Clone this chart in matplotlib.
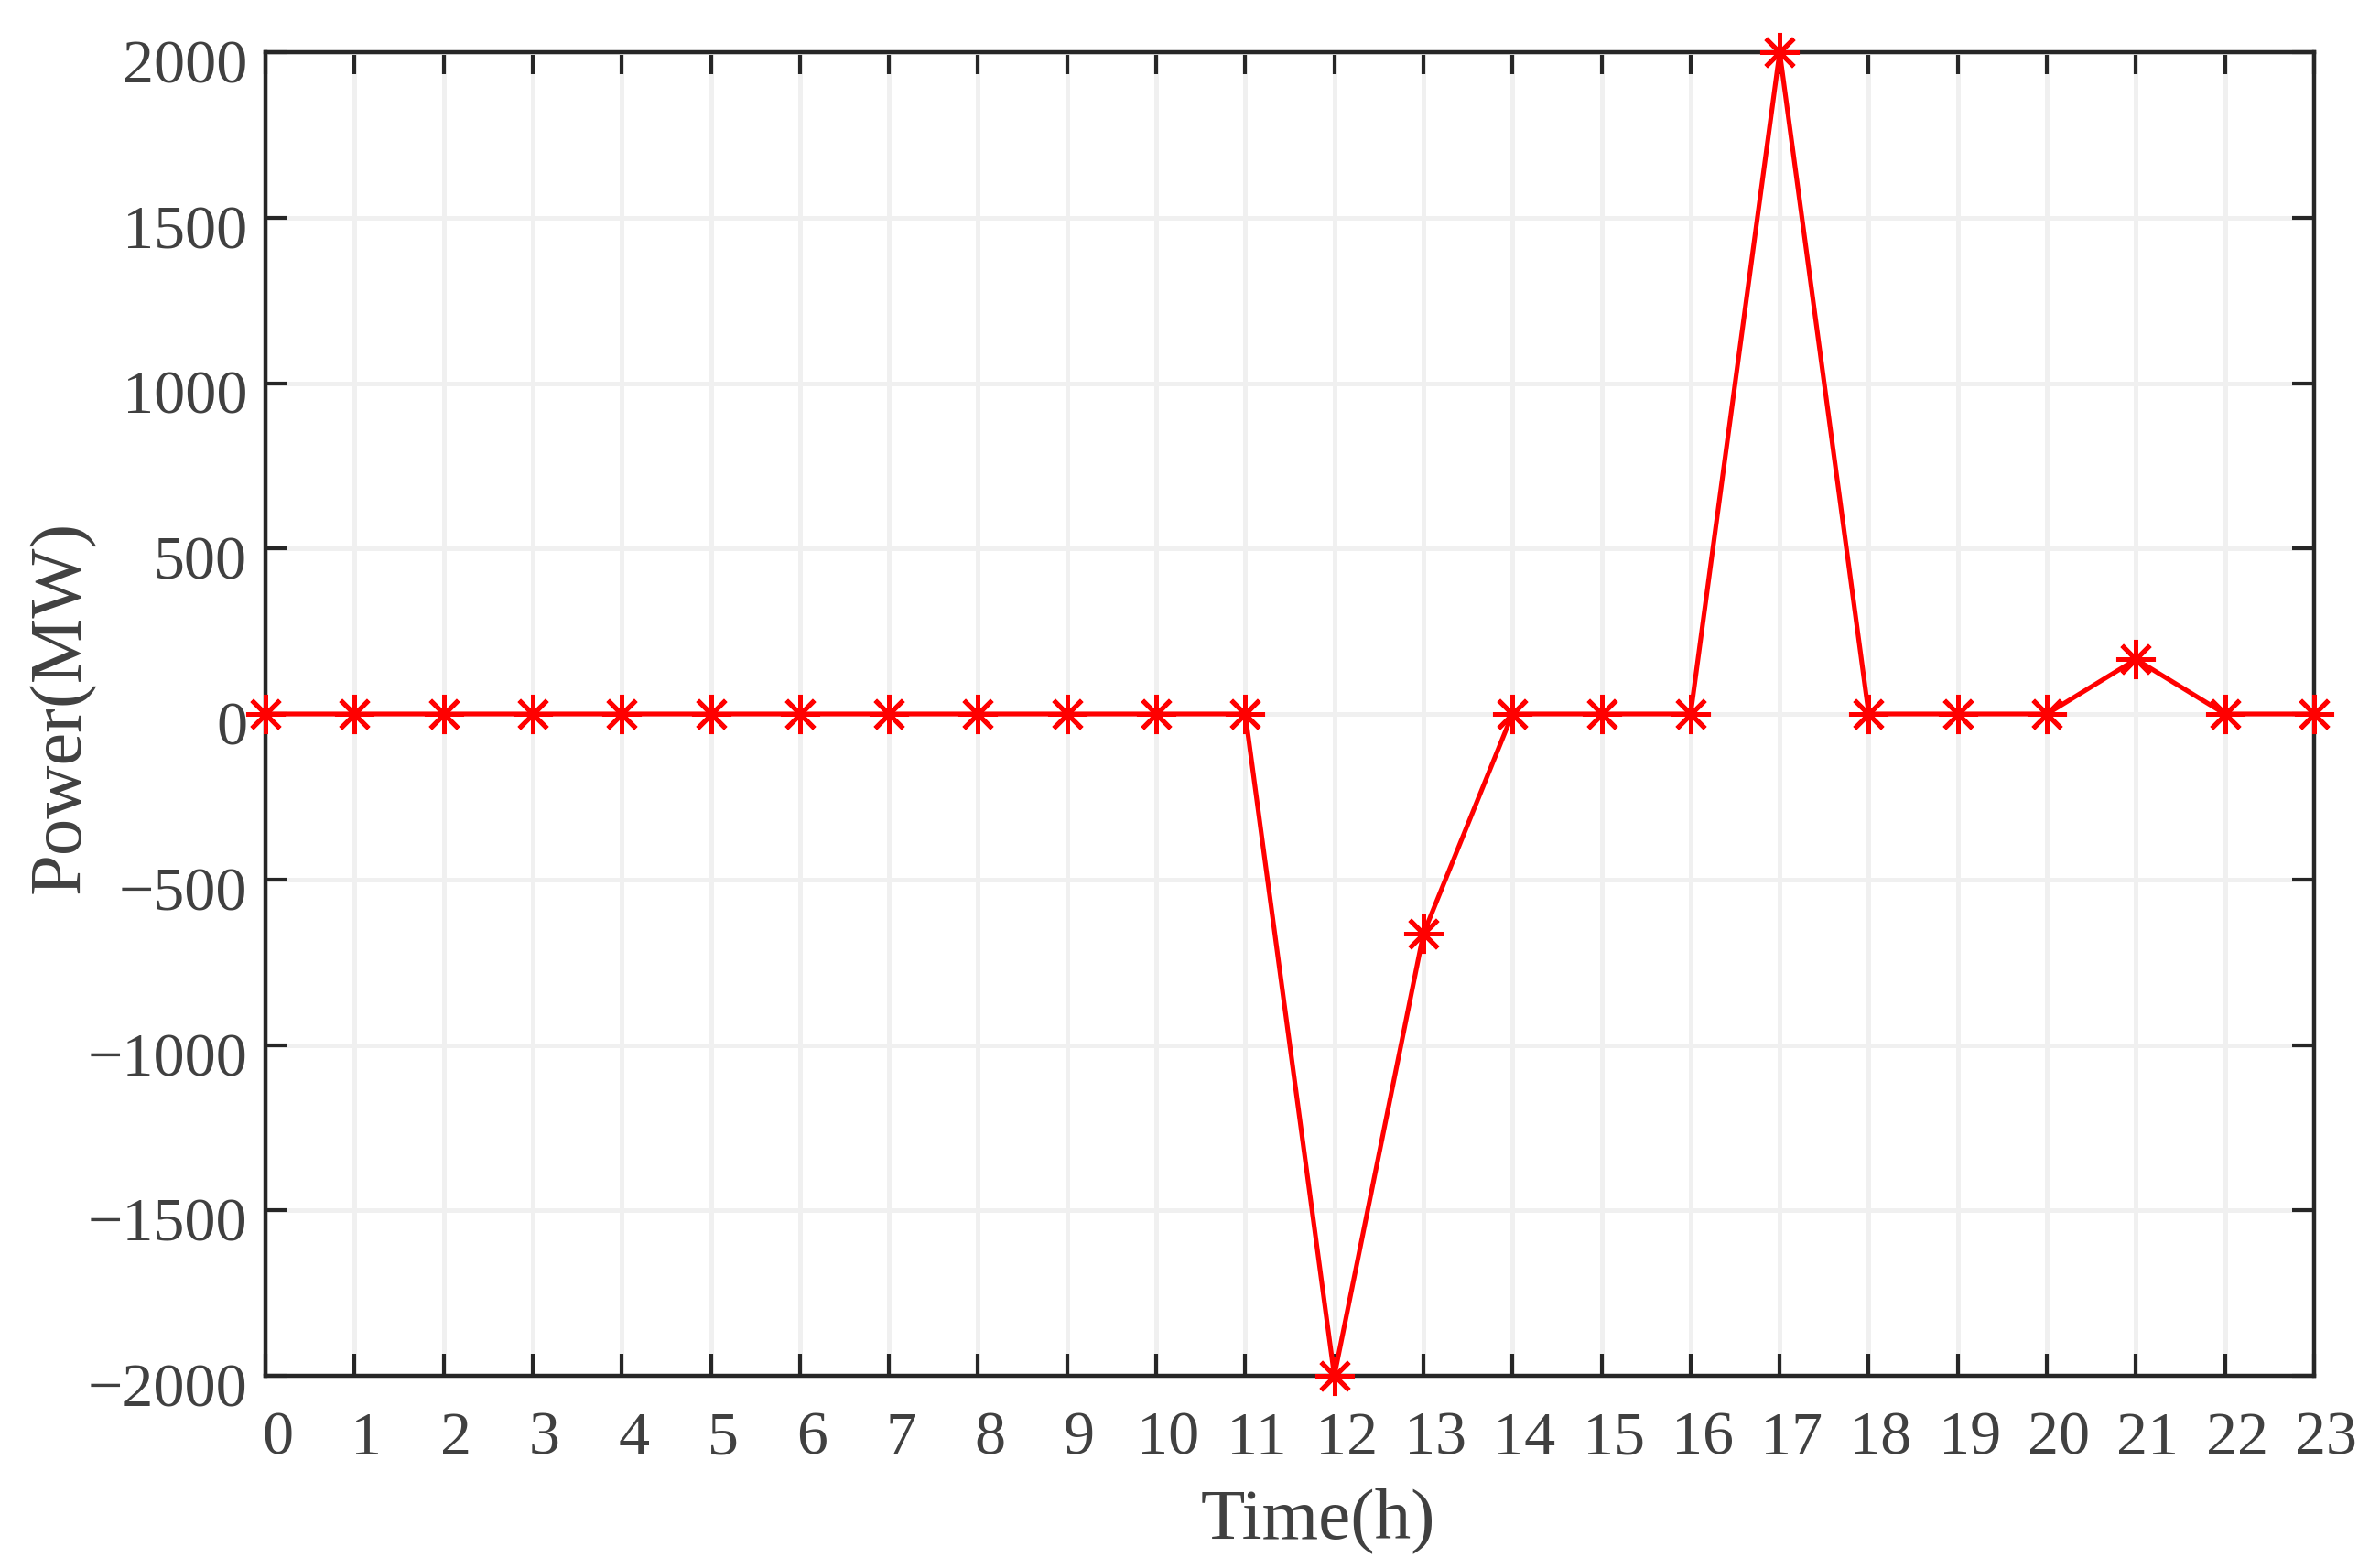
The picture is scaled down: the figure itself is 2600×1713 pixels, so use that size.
import numpy as np
import matplotlib
matplotlib.use("Agg")
import matplotlib.pyplot as plt
from matplotlib.transforms import ScaledTranslation

hours = list(range(24))
power = [0, 0, 0, 0, 0, 0, 0, 0, 0, 0, 0, 0,
         -2000, -665, 0, 0, 0, 2000, 0, 0, 0, 165, 0, 0]
yticks = [-2000, -1500, -1000, -500, 0, 500, 1000, 1500, 2000]

plt.rcParams['font.family'] = ['Liberation Serif', 'DejaVu Serif']
plt.rcParams['axes.unicode_minus'] = True

DPI = 100
fig = plt.figure(figsize=(26.0, 17.13), dpi=DPI)
ax = fig.add_axes([290/2600, 1 - 1503/1713, (2528-290)/2600, (1503-57)/1713])

txt_col = '#404040'
ax_col = '#262626'

ax.plot(hours, power, color='#ff0000', linewidth=3.7,
        marker=(8, 2, 0), markersize=31, markeredgewidth=3.6,
        markeredgecolor='#ff0000', zorder=5, clip_on=False)

ax.set_xlim(0, 23)
ax.set_ylim(-2000, 2000)
ax.set_xticks(hours)
ax.set_yticks(yticks)

ax.grid(True, color='#f0f0f0', linewidth=3.6, zorder=0)
ax.set_axisbelow(True)

for s in ax.spines.values():
    s.set_color(ax_col)
    s.set_linewidth(3.2)

ax.tick_params(axis='both', which='major', direction='in', length=17, width=3.0,
               color=ax_col, labelcolor=txt_col, labelsize=49,
               top=True, right=True)
ax.tick_params(axis='x', pad=28)
ax.tick_params(axis='y', pad=14)

# small offsets to mimic original label placement
off_y = ScaledTranslation(0, -10/DPI, fig.dpi_scale_trans)
for lab in ax.get_yticklabels():
    lab.set_transform(lab.get_transform() + off_y)
off_x = ScaledTranslation(13/DPI, 0, fig.dpi_scale_trans)
for lab in ax.get_xticklabels():
    lab.set_transform(lab.get_transform() + off_x)

ax.set_xlabel('Time(h)', fontsize=57, color=txt_col)
ax.set_ylabel('Power(MW)', fontsize=58, color=txt_col)
ax.xaxis.set_label_coords((1440-290)/(2528-290), -(1680-1503)/(1503-57))
ax.xaxis.label.set_va('baseline')
ax.yaxis.set_label_coords(-(290-68)/(2528-290), (1503-772)/(1503-57))
ax.yaxis.label.set_va('center')

fig.savefig('out.png', dpi=DPI, facecolor='white')
